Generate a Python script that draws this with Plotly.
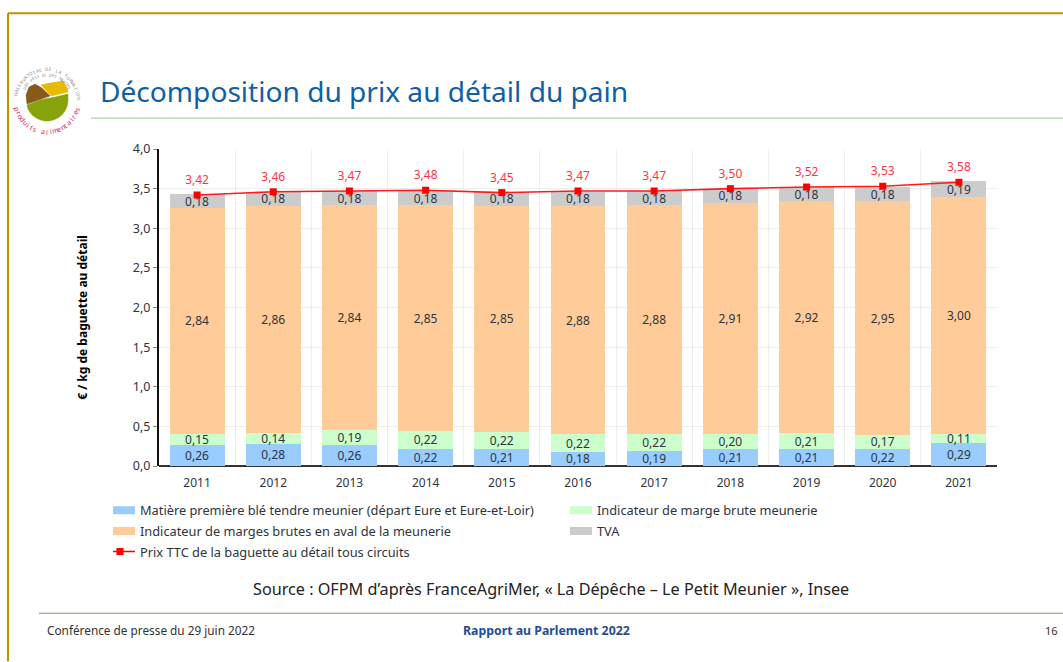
import math
import plotly.graph_objects as go

W, H = 1063, 662
L, R, T, B = 159, 997, 149, 466.5

years = ["2011","2012","2013","2014","2015","2016","2017","2018","2019","2020","2021"]
ble = [0.26,0.28,0.26,0.22,0.21,0.18,0.19,0.21,0.21,0.22,0.29]
meunerie = [0.15,0.14,0.19,0.22,0.22,0.22,0.22,0.20,0.21,0.17,0.11]
aval = [2.84,2.86,2.84,2.85,2.85,2.88,2.88,2.91,2.92,2.95,3.00]
tva = [0.18,0.18,0.18,0.18,0.18,0.18,0.18,0.18,0.18,0.18,0.19]
prix = [3.42,3.46,3.47,3.48,3.45,3.47,3.47,3.50,3.52,3.53,3.58]
y_ticks = [0,0.5,1,1.5,2,2.5,3,3.5,4]
y_labels = ["0,0","0,5","1,0","1,5","2,0","2,5","3,0","3,5","4,0"]

FONT = "Noto Sans"
DARK = "#2f3440"

def px(x): return (x - L) / (R - L)
def py(y): return (B - y) / (B - T)

fig = go.Figure()
series = [
    ("Matière première blé tendre meunier (départ Eure et Eure-et-Loir)", ble, "#99ccff", "legend"),
    ("Indicateur de marge brute meunerie", meunerie, "#ccffcc", "legend2"),
    ("Indicateur de marges brutes en aval de la meunerie", aval, "#ffcc99", "legend"),
    ("TVA", tva, "#cccccc", "legend2"),
]
for name, vals, col, leg in series:
    fig.add_bar(x=years, y=vals, name=name, marker=dict(color=col, line_width=0), showlegend=False,
                texttemplate="%{y:.2f}", textposition="inside", insidetextanchor="middle",
                textangle=0, constraintext="none",
                textfont=dict(family=FONT, size=12, color=DARK))
PRIX_NAME = "Prix TTC de la baguette au détail tous circuits"
fig.add_scatter(x=years, y=prix, name=PRIX_NAME, showlegend=False,
                mode="lines+markers", line=dict(color="#ff1a1a", width=1.6),
                marker=dict(symbol="square", size=7, color="#ff0000"))
# value labels of the price line, lifted clear of the markers
fig.add_scatter(x=years, y=prix, name=PRIX_NAME, showlegend=False, hoverinfo="skip",
                mode="markers+text", marker=dict(size=11, opacity=0),
                texttemplate="%{y:.2f}", textposition="top center",
                textfont=dict(family=FONT, size=12, color="#ff3344"), cliponaxis=False)

# legend keys: same series names, wide flat swatches (no data of their own)
for i, (name, vals, col, leg) in enumerate(series):
    fig.add_scatter(x=[None], y=[None], name=name, mode="lines", legend=leg, legendgroup=name,
                    line=dict(color=col, width=8, dash="0px,8px,22px,100px"))
fig.add_scatter(x=[None], y=[None], name=PRIX_NAME, mode="lines+markers", legend="legend", legendgroup=PRIX_NAME,
                line=dict(color="#ff0000", width=1.6, dash="0px,8px,22px,100px"),
                marker=dict(symbol="square", size=7, color="#ff0000"))

shapes, annos = [], []

def line(x0, y0, x1, y1, color, width):
    shapes.append(dict(type="line", xref="paper", yref="paper", x0=px(x0), y0=py(y0),
                       x1=px(x1), y1=py(y1), line=dict(color=color, width=width), layer="above"))

def text(x, y, s, size, color=DARK, anchor="left", weight=None, angle=0):
    if weight: s = f"<b>{s}</b>"
    annos.append(dict(text=s, xref="paper", yref="paper", x=px(x), y=py(y), xanchor=anchor,
                      yanchor="middle", showarrow=False, textangle=angle,
                      font=dict(family=FONT, size=size, color=color)))

def poly(path_pts, color):
    d = f"M{px(path_pts[0][0])},{py(path_pts[0][1])}"
    for p in path_pts[1:]:
        d += f" L{px(p[0])},{py(p[1])}"
    shapes.append(dict(type="path", xref="paper", yref="paper", path=d + " Z",
                       fillcolor=color, line=dict(color=color, width=0.5), layer="above"))

def arc_text(s, cx, cy, r, start, end, size, color, bottom=False):
    n = len(s)
    for i, ch in enumerate(s):
        a = math.radians(start + (end - start) * i / (n - 1))
        x, y = cx + r * math.cos(a), cy + r * math.sin(a)
        rot = math.degrees(a) + (-90 if bottom else 90)
        if ch != " ":
            text(x, y, ch, size, color, anchor="center", angle=rot)

# frame and rules
line(8, 13, W, 13, "#bf9000", 2)
line(8, 13, 8, H, "#bf9000", 2)
line(91, 118, W, 118, "#b5d0a8", 1.2)
line(39, 614, W, 614, "#7f9f5f", 1.2)

# logo
cx, cy = 47, 101
green = [(27, 105), (40, 100), (55, 97), (68, 94)]
for deg in range(5, 160, 10):
    a = math.radians(deg)
    green.append((cx + 21 * math.cos(a), cy - 1 + 21 * math.sin(a)))
poly(green, "#86a30c")
poly([(27,104),(26,95),(29,87),(35,84),(42,88),(50,96)], "#87591a")
poly([(41,85),(50,83),(63,81),(67,88),(68,92),(51,96)], "#e6bb00")
arc_text("OBSERVATOIRE DE LA FORMATION", cx, cy, 32, -168, -5, 4.5, "#8a8a8a")
arc_text("DES PRIX ET DES MARGES", cx, cy, 26, -150, -30, 4, "#8a8a8a")
arc_text("produits alimentaires", cx, cy, 31, 165, 15, 7, "#d8295c", bottom=True)

# texts
text(97.5, 91, "Décomposition du prix au détail du pain", 28.1, "#0f5fa8")
text(83, 318, "€ / kg de baguette au détail", 12, "#000000", anchor="center", weight=True, angle=-90)
text(551, 590, "Source : OFPM d’après FranceAgriMer, « La Dépêche – Le Petit Meunier », Insee", 16.2, "#222222", anchor="center")
text(45, 631, "Conférence de presse du 29 juin 2022", 11.8, "#333333")
text(546, 631, "Rapport au Parlement 2022", 12.3, "#1f4e96", anchor="center", weight=True)
text(1051, 631, "16", 11, "#333333", anchor="center")

leg_common = dict(orientation="v", xanchor="left", yanchor="top", traceorder="grouped",
                  font=dict(family=FONT, size=12.8, color=DARK), bgcolor="rgba(0,0,0,0)",
                  itemwidth=30, tracegroupgap=1)

fig.update_layout(
    width=W, height=H, autosize=False, barmode="stack", bargap=0.28, separators=", ",
    margin=dict(l=L, r=W - R, t=T, b=H - B, pad=0),
    paper_bgcolor="white", plot_bgcolor="white",
    font=dict(family=FONT, color=DARK),
    shapes=shapes, annotations=annos,
    legend=dict(x=px(100), y=py(496), **leg_common),
    legend2=dict(x=px(557), y=py(496), **leg_common),
    xaxis=dict(type="category", categoryorder="array", categoryarray=years, range=[-0.5, 10.5],
               tickson="boundaries", ticks="", showgrid=True, gridcolor="#eeeeee",
               gridwidth=1, showline=False, zeroline=False, ticklabelstandoff=8,
               tickfont=dict(family=FONT, size=12, color=DARK)),
    yaxis=dict(range=[0, 4], tickvals=y_ticks, ticktext=y_labels, ticks="outside", ticklen=4,
               tickcolor="#888888", showgrid=True, gridcolor="#eeeeee", showline=True,
               linecolor="#111111", linewidth=2, zeroline=True, zerolinecolor="#333333", zerolinewidth=2,
               tickfont=dict(family=FONT, size=12.5, color=DARK)),
)
fig.write_html("out.html", config=dict(displayModeBar=False),
               post_script="document.body.style.margin='0';document.documentElement.style.overflow='hidden';")
